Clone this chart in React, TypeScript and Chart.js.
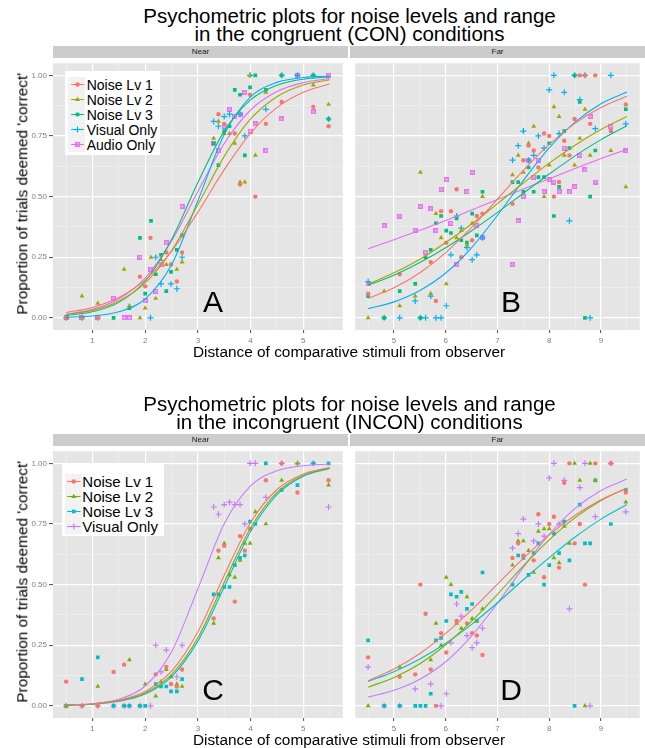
import React, { useEffect, useRef } from 'react';
import { Chart, registerables } from 'chart.js';

Chart.register(...registerables);

const FONT = '"Liberation Sans", Arial, Helvetica, sans-serif';

// ---------- series names / colours / shapes ----------
const CON_LABELS = ['Noise Lv 1', 'Noise Lv 2', 'Noise Lv 3', 'Visual Only', 'Audio Only'];
const CON_COLORS = ['#F8766D', '#A3A500', '#00BF7D', '#00B0F6', '#E76BF3'];
const CON_SHAPES = ['circle', 'triangle', 'rect', 'cross', 'squareCross'];
const INCON_LABELS = ['Noise Lv 1', 'Noise Lv 2', 'Noise Lv 3', 'Visual Only'];
const INCON_COLORS = ['#F8766D', '#7CAE00', '#00BFC4', '#C77CFF'];
const INCON_SHAPES = ['circle', 'triangle', 'rect', 'cross'];

// ---------- axis ticks ----------
const Y_MAJOR = [0, 0.25, 0.5, 0.75, 1];
const Y_MINOR = [0.125, 0.375, 0.625, 0.875];
const NEAR_MAJOR = [1, 2, 3, 4, 5];
const NEAR_MINOR = [0.5, 1.5, 2.5, 3.5, 4.5, 5.5];
const FAR_MAJOR = [5, 6, 7, 8, 9];
const FAR_MINOR = [4.5, 5.5, 6.5, 7.5, 8.5, 9.5];

// ---------- fitted curve sample positions ----------
const NEAR_FIT_X = [0.5, 1, 1.5, 2, 2.5, 3, 3.5, 4, 4.5, 5, 5.5];
const FAR_FIT_X = [4.5, 5, 5.5, 6, 6.5, 7, 7.5, 8, 8.5, 9, 9.5];

type P = [number, number];

// ===== A: congruent, Near =====
const conNear_lv1: P[] = [[0.5,0],[0.8,0],[1.1,0],[1.9,0.17],[2.0,0.13],[2.1,0.33],[2.4,0.27],[2.49,0.22],[2.6,0.15],[2.7,0.27],[3.39,0.84],[3.5,0.8],[3.7,0.76],[3.8,0.55],[3.99,0.92],[4.09,0.5],[4.29,0.8],[4.59,0.89],[5.19,0.87],[5.48,0.79]];
const conNear_lv2: P[] = [[0.5,0],[0.8,0.09],[1.1,0.06],[1.6,0.2],[1.7,0.05],[1.9,0],[2.0,0.04],[2.11,0.25],[2.2,0.08],[2.3,0.24],[2.4,0.22],[2.6,0.2],[2.7,0.23],[3.3,0.74],[3.39,0.81],[3.5,0.76],[3.6,0.76],[3.7,0.72],[3.8,0.56],[3.89,0.56],[3.99,1],[4.09,0.67],[4.29,0.93],[5.19,0.96],[5.48,0.88]];
const conNear_lv3: P[] = [[0.5,0],[1.4,0],[1.7,0.04],[1.9,0.33],[2.0,0.1],[2.11,0.4],[2.2,0.18],[2.3,0.26],[2.4,0.11],[2.49,0.19],[2.6,0.28],[2.7,0.34],[3.3,0.72],[3.39,0.63],[3.5,0.77],[3.6,0.79],[3.7,0.94],[3.8,0.92],[3.89,0.67],[3.99,0.95],[4.09,1],[4.29,0.94],[4.59,1],[5.19,1],[5.48,0.82]];
const conNear_vis: P[] = [[0.5,0],[0.8,0],[1.1,0],[2.1,0],[2.2,0.25],[2.3,0.14],[2.49,0.14],[2.6,0.12],[2.7,0.25],[3.3,0.81],[3.39,0.79],[3.5,0.83],[3.6,0.84],[3.8,0.84],[3.89,0.75],[3.99,1],[4.29,0.86],[4.59,1],[4.89,1],[5.19,1],[5.48,0.82]];
const conNear_aud: P[] = [[0.5,0],[0.8,0],[1.1,0],[1.4,0.08],[1.6,0],[1.7,0],[1.9,0.25],[2.0,0.07],[2.1,0.2],[2.2,0.11],[2.3,0.22],[2.4,0.31],[2.7,0.46],[3.3,0.72],[3.39,0.69],[3.5,0.79],[3.6,0.86],[3.7,0.83],[3.8,0.84],[3.89,0.93],[3.99,0.77],[4.09,0.8],[4.29,0.69],[4.59,0.82],[4.89,1],[5.19,0.85],[5.48,1]];
const conNearFit_lv1 = [0.022,0.043,0.084,0.157,0.275,0.436,0.611,0.762,0.867,0.930,0.964];
const conNearFit_lv2 = [0.014,0.031,0.069,0.144,0.277,0.467,0.666,0.820,0.912,0.960,0.982];
const conNearFit_lv3 = [0.010,0.025,0.064,0.152,0.323,0.558,0.770,0.899,0.959,0.984,0.994];
const conNearFit_vis = [0.002,0.008,0.025,0.078,0.219,0.483,0.756,0.911,0.971,0.991,0.997];
const conNearFit_aud = [0.015,0.035,0.078,0.165,0.317,0.521,0.719,0.857,0.933,0.970,0.987];

// ===== B: congruent, Far =====
const conFar_lv1: P[] = [[4.5,0.1],[5.11,0.18],[5.71,0.23],[5.81,0.07],[5.91,0.44],[6.01,0.31],[6.1,0.44],[6.21,0.53],[6.3,0.25],[6.51,0.32],[6.6,0.42],[6.71,0.43],[7.29,0.47],[7.5,0.65],[7.6,0.71],[7.7,0.69],[7.79,0.62],[7.9,0.76],[8.0,0.75],[8.09,0.5],[8.19,0.56],[8.29,0.73],[8.39,0.67],[8.49,0.82],[8.59,1],[8.69,1],[8.79,0.8],[8.89,1],[9.19,0.77],[9.48,0.88]];
const conFar_lv2: P[] = [[4.5,0],[4.81,0.11],[5.11,0.05],[5.41,0.09],[5.51,0.6],[5.71,0.1],[5.81,0.43],[5.91,0.33],[6.01,0.14],[6.21,0.33],[6.3,0.36],[6.41,0.3],[6.51,0.39],[6.71,0.5],[7.29,0.59],[7.4,0.67],[7.5,0.6],[7.6,0.72],[7.7,0.79],[7.9,0.5],[8.0,0.63],[8.09,0.87],[8.19,0.83],[8.29,0.67],[8.49,0.63],[8.59,0.74],[8.69,0.86],[8.79,0.67],[9.19,0.69],[9.48,0.54]];
const conFar_lv3: P[] = [[4.5,0.09],[4.81,0],[5.11,0.11],[5.41,0.14],[5.51,0],[5.61,0.25],[5.71,0.28],[5.81,0.39],[5.91,0.42],[6.01,0.36],[6.1,0.35],[6.21,0.41],[6.3,0.32],[6.41,0.31],[6.51,0.43],[6.6,0.34],[6.71,0.52],[7.29,0.56],[7.4,0.56],[7.5,0.52],[7.6,0.62],[7.7,0.52],[7.79,0.58],[7.9,0.58],[8.0,0.72],[8.09,0.42],[8.19,0.54],[8.29,0.77],[8.39,0.7],[8.49,1],[8.59,0.89],[8.69,0],[8.79,0.5],[8.89,0.69],[9.19,0.77],[9.48,0.86]];
const conFar_vis: P[] = [[4.5,0.15],[4.81,0],[5.11,0],[5.41,0.07],[5.51,0],[5.61,0],[5.71,0.09],[5.81,0],[5.91,0],[6.01,0.05],[6.1,0.26],[6.21,0.42],[6.3,0.37],[6.41,0.29],[6.51,0.24],[6.6,0.26],[6.71,0.33],[7.29,0.65],[7.4,0.71],[7.5,0.77],[7.6,0.65],[7.7,0.67],[7.79,0.75],[7.9,0.7],[8.0,0.94],[8.09,1],[8.19,0.76],[8.29,0.93],[8.39,0.4],[8.49,1],[8.59,0.9],[8.69,1],[8.79,0],[8.89,0.78],[9.19,1],[9.48,0.8]];
const conFar_aud: P[] = [[4.5,0.14],[4.81,0.38],[5.11,0.42],[5.41,0.36],[5.51,0.46],[5.61,0.27],[5.71,0.45],[5.81,0.36],[5.91,0.53],[6.01,0.57],[6.1,0.39],[6.21,0.22],[6.41,0.52],[6.51,0.6],[6.6,0.38],[6.71,0.33],[7.29,0.22],[7.4,0.4],[7.5,0.5],[7.6,0.65],[7.7,0.58],[7.79,0.65],[7.9,0.52],[8.0,0.57],[8.09,0.56],[8.19,0.52],[8.29,0.7],[8.39,0.52],[8.49,0.54],[8.59,0.67],[8.69,0.61],[8.79,0.83],[8.89,0.56],[9.19,0.79],[9.48,0.69]];
const conFarFit_lv1 = [0.081,0.124,0.186,0.269,0.373,0.490,0.608,0.715,0.802,0.867,0.914];
const conFarFit_lv2 = [0.139,0.186,0.242,0.311,0.387,0.471,0.556,0.638,0.712,0.777,0.830];
const conFarFit_lv3 = [0.135,0.176,0.228,0.289,0.359,0.435,0.514,0.593,0.668,0.735,0.792];
const conFarFit_vis = [0.038,0.066,0.113,0.185,0.290,0.423,0.567,0.701,0.807,0.883,0.931];
const conFarFit_aud = [0.285,0.322,0.361,0.401,0.445,0.488,0.531,0.574,0.616,0.657,0.694];

// ===== C: incongruent, Near =====
const inconNear_lv1: P[] = [[0.5,0.1],[0.8,0],[1.1,0],[1.4,0.14],[1.6,0.17],[2.2,0.13],[2.4,0.16],[2.49,0.09],[2.6,0.08],[2.7,0.15],[3.3,0.36],[3.39,0.64],[3.5,0.66],[3.7,0.43],[3.8,0.7],[3.89,0.64],[3.99,0.73],[4.29,0.93],[4.59,1],[4.89,0.88],[5.48,0.93]];
const inconNear_lv2: P[] = [[0.5,0],[1.1,0.08],[1.7,0.19],[2.0,0.09],[2.2,0.04],[2.3,0.1],[2.4,0.15],[2.49,0.12],[2.6,0.09],[2.7,0.08],[3.3,0.34],[3.39,0.61],[3.5,0.67],[3.6,0.54],[3.7,0.53],[3.8,0.6],[3.89,0.67],[3.99,0.67],[4.09,0.8],[4.29,0.75],[4.59,0.93],[4.89,1],[5.48,0.91]];
const inconNear_lv3: P[] = [[0.5,0],[0.8,0.11],[1.1,0.2],[1.4,0],[1.6,0],[1.7,0],[1.9,0],[2.0,0],[2.2,0.09],[2.3,0.08],[2.4,0.08],[2.49,0.06],[2.6,0.06],[2.7,0.11],[3.3,0.46],[3.39,0.46],[3.5,0.49],[3.6,0.49],[3.7,0.58],[3.8,0.61],[3.89,0.62],[3.99,0.76],[4.09,0.75],[4.29,1],[4.59,0.89],[4.89,0.91],[5.19,1],[5.48,1]];
const inconNear_vis: P[] = [[0.5,0],[0.8,0],[1.1,0],[1.4,0],[1.6,0],[1.7,0],[1.9,0],[2.1,0],[2.2,0.25],[2.3,0.14],[2.4,0.23],[2.6,0.12],[2.7,0.25],[3.3,0.82],[3.39,0.79],[3.5,0.83],[3.6,0.84],[3.7,0.83],[3.8,0.83],[3.89,0.75],[3.99,1],[4.09,1],[4.29,0.86],[4.59,1],[4.89,1],[5.19,1],[5.48,0.82]];
const inconNearFit_lv1 = [0.003,0.009,0.023,0.059,0.143,0.306,0.539,0.756,0.892,0.956,0.983];
const inconNearFit_lv2 = [0.003,0.008,0.021,0.053,0.129,0.281,0.510,0.733,0.880,0.951,0.981];
const inconNearFit_lv3 = [0.003,0.007,0.019,0.049,0.120,0.267,0.490,0.719,0.871,0.947,0.979];
const inconNearFit_vis = [0.003,0.008,0.027,0.082,0.223,0.483,0.751,0.907,0.969,0.990,0.997];

// ===== D: incongruent, Far =====
const inconFar_lv1: P[] = [[4.5,0.2],[5.11,0.12],[5.41,0.13],[5.51,0.5],[5.61,0.38],[5.71,0.15],[5.81,0],[5.91,0.3],[6.01,0.22],[6.21,0.35],[6.41,0.34],[6.51,0.3],[6.6,0.29],[6.71,0.21],[7.29,0.61],[7.4,0.67],[7.5,0.62],[7.7,0.6],[7.79,0.79],[7.9,0.53],[8.0,0.75],[8.09,0.78],[8.19,0.57],[8.29,0.92],[8.39,1],[8.49,0.67],[8.59,0.75],[8.69,0.5],[8.89,1],[9.19,1],[9.48,0.88]];
const inconFar_lv2: P[] = [[4.5,0],[5.11,0.16],[5.71,0.19],[5.81,0.34],[5.91,0.25],[6.01,0.53],[6.1,0.5],[6.21,0.34],[6.3,0.32],[6.41,0.45],[6.51,0.36],[6.6,0.35],[6.71,0.4],[7.29,0.58],[7.4,0.68],[7.5,0.68],[7.6,0.64],[7.7,0.55],[7.79,0.72],[7.9,0.73],[8.0,0.73],[8.09,0.61],[8.19,0.59],[8.29,0.74],[8.39,0.67],[8.49,1],[8.59,0.93],[8.69,0],[8.79,1],[8.89,0.93],[9.19,1],[9.48,0.84]];
const inconFar_lv3: P[] = [[4.5,0.27],[4.81,0],[5.11,0],[5.41,0],[5.51,0],[5.61,0],[5.71,0.05],[5.81,0.27],[5.91,0.28],[6.01,0.35],[6.1,0.46],[6.21,0.45],[6.3,0.47],[6.41,0.4],[6.51,0.42],[6.6,0.35],[6.71,0.55],[7.29,0.5],[7.4,0.62],[7.5,0.61],[7.6,0.54],[7.7,0.63],[7.79,0.67],[7.9,0.5],[8.0,0.58],[8.09,0.71],[8.19,0.63],[8.29,0.76],[8.39,0.6],[8.49,0],[8.59,0.83],[8.69,0.67],[8.79,0.67],[8.89,0.93],[9.19,0.75],[9.48,0.89]];
const inconFar_vis: P[] = [[4.5,0.16],[4.81,0],[5.11,0],[5.41,0.07],[5.71,0.09],[5.91,0],[6.01,0.05],[6.1,0.26],[6.21,0.42],[6.3,0.37],[6.41,0.29],[6.51,0.24],[6.6,0.26],[6.71,0.32],[7.29,0.65],[7.4,0.71],[7.5,0.77],[7.7,0.68],[7.79,0.75],[7.9,0.7],[8.0,0.94],[8.09,1],[8.19,0.75],[8.29,0.93],[8.39,0.4],[8.59,0.9],[8.69,1],[8.79,0],[8.89,0.78],[9.19,1],[9.48,0.8]];
const inconFarFit_lv1 = [0.104,0.152,0.216,0.299,0.396,0.502,0.608,0.705,0.786,0.850,0.897];
const inconFarFit_lv2 = [0.077,0.117,0.174,0.252,0.349,0.460,0.577,0.684,0.776,0.847,0.898];
const inconFarFit_lv3 = [0.101,0.141,0.193,0.258,0.336,0.425,0.520,0.611,0.696,0.770,0.830];
const inconFarFit_vis = [0.036,0.064,0.110,0.182,0.289,0.423,0.571,0.707,0.814,0.888,0.935];

// ---------- helpers ----------
const near = (a: number, list: number[]) => list.some((m) => Math.abs(m - a) < 1e-6);

function squareCrossImage(color: string): HTMLCanvasElement {
  const s = 5;
  const c = document.createElement('canvas');
  c.width = s;
  c.height = s;
  const g = c.getContext('2d')!;
  g.fillStyle = color + '40';
  g.fillRect(0, 0, s, s);
  g.strokeStyle = color;
  g.lineWidth = 0.9;
  g.strokeRect(0.5, 0.5, s - 1, s - 1);
  g.beginPath();
  g.moveTo(0.5, 0.5);
  g.lineTo(s - 0.5, s - 0.5);
  g.moveTo(s - 0.5, 0.5);
  g.lineTo(0.5, s - 0.5);
  g.stroke();
  return c;
}

const panelBg = {
  id: 'panelBg',
  beforeDraw(chart: any) {
    const { ctx, chartArea: a } = chart;
    ctx.save();
    ctx.fillStyle = '#E5E5E5';
    ctx.fillRect(a.left, a.top, a.right - a.left, a.bottom - a.top);
    ctx.restore();
  },
};

type PanelProps = {
  left: number;
  top: number;
  width: number;
  plotH: number;
  yAxisW: number;
  xMin: number;
  xMax: number;
  xMajor: number[];
  xMinor: number[];
  points: P[][];
  fits: number[][];
  fitX: number[];
  colors: string[];
  shapes: string[];
};

function Panel(props: PanelProps) {
  const ref = useRef<HTMLCanvasElement>(null);
  const xAxisH = 18;
  const H = props.plotH + xAxisH;
  useEffect(() => {
    const { xMin, xMax, xMajor, xMinor, points, fits, fitX, colors, shapes, yAxisW } = props;
    const showY = yAxisW > 0;
    const datasets: any[] = [];
    fits.forEach((f, i) => {
      datasets.push({
        data: fitX.map((x, j) => ({ x, y: f[j] })),
        showLine: true,
        pointRadius: 0,
        borderColor: colors[i],
        borderWidth: 1.1,
        cubicInterpolationMode: 'monotone',
        fill: false,
        order: 0,
      });
    });
    points.forEach((pts, i) => {
      const shape = shapes[i];
      const style: any = shape === 'squareCross' ? squareCrossImage(colors[i]) : shape;
      const radius = shape === 'circle' ? 2.2 : shape === 'triangle' ? 2.8 : shape === 'rect' ? 2.6 : 3;
      datasets.push({
        data: pts.map(([x, y]) => ({ x, y })),
        showLine: false,
        pointStyle: style,
        pointRadius: radius,
        backgroundColor: colors[i],
        borderColor: colors[i],
        pointBorderWidth: shape === 'cross' ? 1.2 : 0,
        order: 1,
      });
    });
    const xTicks = [...xMajor, ...xMinor].sort((a, b) => a - b);
    const yTicks = [...Y_MAJOR, ...Y_MINOR].sort((a, b) => a - b);
    const chart = new Chart(ref.current!, {
      type: 'scatter',
      data: { datasets },
      plugins: [panelBg],
      options: {
        animation: false,
        responsive: false,
        maintainAspectRatio: false,
        devicePixelRatio: 1,
        events: [],
        layout: { padding: 0 },
        plugins: { legend: { display: false }, tooltip: { enabled: false }, title: { display: false } },
        scales: {
          x: {
            type: 'linear',
            bounds: 'data',
            min: xMin,
            max: xMax,
            afterBuildTicks: (s: any) => {
              s.ticks = xTicks.map((v) => ({ value: v }));
            },
            afterFit: (s: any) => {
              s.height = xAxisH;
              s.paddingLeft = 0;
              s.paddingRight = 0;
            },
            border: { display: false },
            grid: {
              color: (c: any) => (near(c.tick?.value, xMajor) ? '#FFFFFF' : '#F2F2F2'),
              lineWidth: (c: any) => (near(c.tick?.value, xMajor) ? 1.2 : 0.6),
              drawTicks: true,
              tickLength: 3,
              tickWidth: 1,
              tickColor: (c: any) => (near(c.tick?.value, xMajor) ? '#4D4D4D' : 'rgba(0,0,0,0)'),
            },
            ticks: {
              autoSkip: false,
              maxRotation: 0,
              minRotation: 0,
              padding: 2.5,
              color: '#7F7F7F',
              font: { family: FONT, size: 8 },
              callback: (v: any) => (near(Number(v), xMajor) ? String(v) : ''),
            },
          },
          y: {
            type: 'linear',
            bounds: 'data',
            min: -0.05,
            max: 1.05,
            afterBuildTicks: (s: any) => {
              s.ticks = yTicks.map((v) => ({ value: v }));
            },
            afterFit: (s: any) => {
              s.width = yAxisW;
              s.paddingTop = 0;
              s.paddingBottom = 0;
            },
            border: { display: false },
            grid: {
              color: (c: any) => (near(c.tick?.value, Y_MAJOR) ? '#FFFFFF' : '#F2F2F2'),
              lineWidth: (c: any) => (near(c.tick?.value, Y_MAJOR) ? 1.2 : 0.6),
              drawTicks: showY,
              tickLength: 4,
              tickWidth: 1,
              tickColor: (c: any) => (near(c.tick?.value, Y_MAJOR) ? '#4D4D4D' : 'rgba(0,0,0,0)'),
            },
            ticks: {
              display: showY,
              autoSkip: false,
              padding: 2,
              color: '#7F7F7F',
              font: { family: FONT, size: 8 },
              callback: (v: any) => (near(Number(v), Y_MAJOR) ? Number(v).toFixed(2) : ''),
            },
          },
        },
      } as any,
    });
    return () => chart.destroy();
  }, []);
  return (
    <canvas
      ref={ref}
      width={props.width}
      height={H}
      style={{ position: 'absolute', left: props.left, top: props.top, width: props.width, height: H }}
    />
  );
}

// ---------- text helper ----------
function Txt(p: { x: number; base: number; size: number; align?: 'left' | 'center' | 'right'; color?: string; children: any }) {
  const align = p.align || 'left';
  const top = p.base - 0.8465 * p.size;
  const style: any = {
    position: 'absolute',
    top,
    fontSize: p.size,
    lineHeight: `${p.size}px`,
    fontFamily: FONT,
    color: p.color || '#000',
    whiteSpace: 'nowrap',
  };
  if (align === 'left') style.left = p.x;
  else if (align === 'center') {
    style.left = p.x - 500;
    style.width = 1000;
    style.textAlign = 'center';
  } else {
    style.left = p.x - 1000;
    style.width = 1000;
    style.textAlign = 'right';
  }
  return <div style={style}>{p.children}</div>;
}

function KeySymbol({ shape, color, cx, cy }: { shape: string; color: string; cx: number; cy: number }) {
  if (shape === 'circle') return <circle cx={cx} cy={cy} r={2.2} fill={color} />;
  if (shape === 'triangle')
    return <polygon points={`${cx},${cy - 2.8} ${cx + 2.45},${cy + 1.4} ${cx - 2.45},${cy + 1.4}`} fill={color} />;
  if (shape === 'rect') return <rect x={cx - 1.85} y={cy - 1.85} width={3.7} height={3.7} fill={color} />;
  if (shape === 'cross')
    return (
      <g stroke={color} strokeWidth={1.2}>
        <line x1={cx - 3} y1={cy} x2={cx + 3} y2={cy} />
        <line x1={cx} y1={cy - 3} x2={cx} y2={cy + 3} />
      </g>
    );
  return (
    <g stroke={color} strokeWidth={0.9}>
      <rect x={cx - 2.2} y={cy - 2.2} width={4.4} height={4.4} fill={color + '40'} />
      <line x1={cx - 2.2} y1={cy - 2.2} x2={cx + 2.2} y2={cy + 2.2} />
      <line x1={cx + 2.2} y1={cy - 2.2} x2={cx - 2.2} y2={cy + 2.2} />
    </g>
  );
}

function Legend(p: {
  left: number;
  top: number;
  width: number;
  height: number;
  rowY: number[];
  rowH: number;
  fontSize: number;
  lineX: [number, number];
  symX: number;
  textX: number;
  labels: string[];
  colors: string[];
  shapes: string[];
}) {
  return (
    <div style={{ position: 'absolute', left: p.left, top: p.top, width: p.width, height: p.height, background: '#FFFFFF' }}>
      {p.labels.map((lab, i) => (
        <React.Fragment key={lab}>
          <svg
            width={17}
            height={p.rowH}
            style={{ position: 'absolute', left: 2.5, top: p.rowY[i] - p.rowH / 2 }}
          >
            <rect x={0} y={0} width={17} height={p.rowH} fill="#F2F2F2" />
            <line
              x1={p.lineX[0]}
              y1={p.rowH / 2}
              x2={p.lineX[1]}
              y2={p.rowH / 2}
              stroke={p.colors[i]}
              strokeWidth={1.1}
            />
            <KeySymbol shape={p.shapes[i]} color={p.colors[i]} cx={p.symX} cy={p.rowH / 2} />
          </svg>
          <Txt x={p.textX} base={p.rowY[i] + 0.358 * p.fontSize} size={p.fontSize}>
            {lab}
          </Txt>
        </React.Fragment>
      ))}
    </div>
  );
}

// ---------- one figure (two facets) ----------
function Figure(p: {
  dy: number;
  title2: string;
  nearPts: P[][];
  nearFits: number[][];
  farPts: P[][];
  farFits: number[][];
  colors: string[];
  shapes: string[];
  labels: string[];
  letters: [string, string];
  legend: any;
}) {
  const dy = p.dy;
  const plotTop = 58 + dy;
  const plotH = 272;
  return (
    <>
      <Txt x={349.5} base={23.5 + dy} size={20.5} align="center">
        Psychometric plots for noise levels and range
      </Txt>
      <Txt x={349.5} base={41.8 + dy} size={20.5} align="center">
        {p.title2}
      </Txt>
      <div style={{ position: 'absolute', left: 53, top: 46 + dy, width: 295, height: 12, background: '#CCCCCC' }} />
      <div style={{ position: 'absolute', left: 350, top: 46 + dy, width: 295, height: 12, background: '#CCCCCC' }} />
      <Txt x={200.5} base={54.9 + dy} size={8} align="center" color="#1A1A1A">
        Near
      </Txt>
      <Txt x={497.5} base={54.9 + dy} size={8} align="center" color="#1A1A1A">
        Far
      </Txt>
      <Panel
        left={0}
        top={plotTop}
        width={348}
        plotH={plotH}
        yAxisW={53}
        xMin={0.25}
        xMax={5.75}
        xMajor={NEAR_MAJOR}
        xMinor={NEAR_MINOR}
        points={p.nearPts}
        fits={p.nearFits}
        fitX={NEAR_FIT_X}
        colors={p.colors}
        shapes={p.shapes}
      />
      <Panel
        left={350}
        top={plotTop}
        width={295}
        plotH={plotH}
        yAxisW={0}
        xMin={4.25}
        xMax={9.75}
        xMajor={FAR_MAJOR}
        xMinor={FAR_MINOR}
        points={p.farPts}
        fits={p.farFits}
        fitX={FAR_FIT_X}
        colors={p.colors}
        shapes={p.shapes}
      />
      <Txt x={213} base={312.7 + dy} size={30} align="center">
        {p.letters[0]}
      </Txt>
      <Txt x={511} base={312.7 + dy} size={30} align="center">
        {p.letters[1]}
      </Txt>
      <Legend {...p.legend} labels={p.labels} colors={p.colors} shapes={p.shapes} />
      <Txt x={349} base={356.7 + dy} size={15.4} align="center">
        Distance of comparative stimuli from observer
      </Txt>
      <div
        style={{
          position: 'absolute',
          left: 21.5 - 200,
          top: 194 + dy - 7.7,
          width: 400,
          height: 15.4,
          lineHeight: '15.4px',
          fontSize: 15.4,
          fontFamily: FONT,
          textAlign: 'center',
          whiteSpace: 'nowrap',
          transform: 'rotate(-90deg)',
          transformOrigin: '50% 50%',
        }}
      >
        Proportion of trials deemed 'correct'
      </div>
    </>
  );
}

export default function App() {
  useEffect(() => {
    document.body.style.margin = '0';
  }, []);
  return (
    <div style={{ position: 'absolute', left: 0, top: 0, width: 645, height: 748, background: '#FFFFFF', overflow: 'hidden' }}>
      <Figure
        dy={0}
        title2="in the congruent (CON) conditions"
        nearPts={[conNear_lv1, conNear_lv2, conNear_lv3, conNear_vis, conNear_aud]}
        nearFits={[conNearFit_lv1, conNearFit_lv2, conNearFit_lv3, conNearFit_vis, conNearFit_aud]}
        farPts={[conFar_lv1, conFar_lv2, conFar_lv3, conFar_vis, conFar_aud]}
        farFits={[conFarFit_lv1, conFarFit_lv2, conFarFit_lv3, conFarFit_vis, conFarFit_aud]}
        colors={CON_COLORS}
        shapes={CON_SHAPES}
        labels={CON_LABELS}
        letters={['A', 'B']}
        legend={{
          left: 65,
          top: 71,
          width: 95,
          height: 84,
          rowY: [13.8, 28.8, 43.8, 58.8, 73.8],
          rowH: 15,
          fontSize: 14,
          lineX: [3.2, 15.8],
          symX: 9.5,
          textX: 21.7,
        }}
      />
      <Figure
        dy={388}
        title2="in the incongruent (INCON) conditions"
        nearPts={[inconNear_lv1, inconNear_lv2, inconNear_lv3, inconNear_vis]}
        nearFits={[inconNearFit_lv1, inconNearFit_lv2, inconNearFit_lv3, inconNearFit_vis]}
        farPts={[inconFar_lv1, inconFar_lv2, inconFar_lv3, inconFar_vis]}
        farFits={[inconFarFit_lv1, inconFarFit_lv2, inconFarFit_lv3, inconFarFit_vis]}
        colors={INCON_COLORS}
        shapes={INCON_SHAPES}
        labels={INCON_LABELS}
        letters={['C', 'D']}
        legend={{
          left: 62,
          top: 463,
          width: 102,
          height: 73,
          rowY: [18, 33, 48, 63],
          rowH: 15,
          fontSize: 15,
          lineX: [2.2, 15.5],
          symX: 8.8,
          textX: 20.3,
        }}
      />
    </div>
  );
}
